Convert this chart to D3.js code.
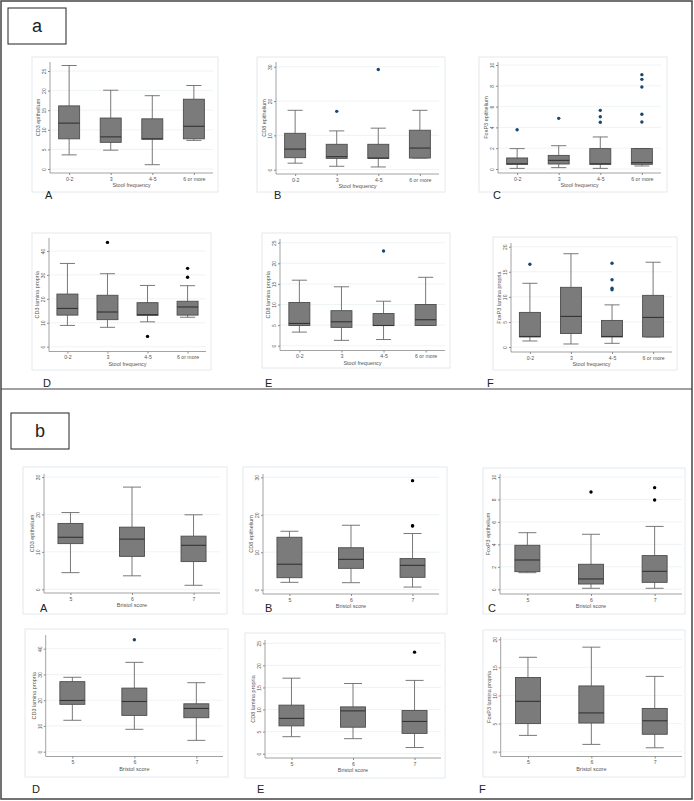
<!DOCTYPE html>
<html>
<head>
<meta charset="utf-8">
<script src="https://cdn.jsdelivr.net/npm/d3@7"></script>
<style>
  body { margin: 0; background: #fff; }
  svg { display: block; font-family: "Liberation Sans", Arial, sans-serif; }
</style>
</head>
<body>
<div class="container"></div>
<script>
const W = 694, H = 801;

// categories
const stoolCats = ["0-2", "3", "4-5", "6 or more"];
const bristolCats = ["5", "6", "7"];

// box stats per category: [lower whisker, q1, median, q3, upper whisker]
const aCD3epi   = [[3.6, 7.7, 11.7, 16.1, 26.4], [4.8, 6.8, 8.2, 13.0, 20.1], [1.1, 7.6, 7.7, 12.8, 18.7], [7.3, 7.7, 10.9, 17.8, 21.3]];
const aCD8epi   = [[1.9, 3.5, 6.0, 10.6, 17.3], [1.0, 3.3, 3.8, 7.4, 11.3], [0.8, 3.3, 3.4, 7.4, 12.1], [3.4, 3.4, 6.3, 11.5, 17.3]];
const aFoxEpi   = [[0.06, 0.45, 0.5, 1.06, 1.96], [0.13, 0.48, 0.83, 1.31, 2.24], [0.06, 0.45, 0.5, 1.96, 3.08], [0.29, 0.45, 0.61, 1.96, 1.96]];
const aCD3lp    = [[8.9, 13.2, 16.0, 22.0, 34.8], [8.1, 11.3, 14.5, 21.5, 30.5], [10.4, 13.1, 13.4, 18.4, 25.6], [12.3, 13.2, 16.6, 19.0, 25.5]];
const aCD8lp    = [[3.3, 4.9, 5.4, 10.5, 15.9], [1.3, 4.45, 5.8, 8.5, 14.3], [1.5, 4.9, 4.9, 7.8, 10.8], [4.9, 4.9, 6.3, 10.0, 16.6]];
const aFoxLp    = [[1.2, 2.0, 2.1, 6.9, 12.7], [0.6, 2.7, 6.1, 11.9, 18.6], [0.73, 2.0, 2.1, 5.3, 8.4], [2.0, 2.0, 5.9, 10.3, 16.9]];

const bCD3epi   = [[4.45, 12.2, 13.9, 17.6, 20.5], [3.6, 8.8, 13.4, 16.6, 27.3], [1.07, 7.4, 11.75, 14.2, 19.9]];
const bCD8epi   = [[1.96, 3.2, 6.8, 14.0, 15.6], [1.87, 5.7, 8.1, 11.2, 17.2], [0.7, 3.3, 6.5, 8.3, 15.0]];
const bFoxEpi   = [[1.48, 1.57, 2.61, 3.92, 5.04], [0.09, 0.47, 0.92, 2.23, 4.9], [0.09, 0.62, 1.6, 3.0, 5.6]];
const bCD3lp    = [[12.2, 18.4, 19.9, 27.2, 28.9], [8.7, 14.1, 19.5, 24.7, 34.7], [4.4, 13.2, 16.8, 18.6, 26.8]];
const bCD8lp    = [[3.85, 6.3, 8.0, 11.0, 17.1], [3.4, 6.0, 9.7, 10.6, 15.9], [1.4, 4.6, 7.3, 9.8, 16.6]];
const bFoxLp    = [[2.9, 5.0, 8.96, 13.2, 16.8], [1.3, 5.1, 6.9, 11.7, 18.6], [0.7, 3.1, 5.5, 7.7, 13.4]];

// outside values per category
const aCD3epiOut = [[], [], [], []];
const aCD8epiOut = [[], [17.0], [29.2], []];
const aFoxEpiOut = [[3.78], [4.87], [5.64, 5.03, 4.49], [9.07, 8.62, 7.88, 5.26, 4.52]];
const aCD3lpOut  = [[], [43.6], [4.3], [32.75, 29.0]];
const aCD8lpOut  = [[], [], [23.0], []];
const aFoxLpOut  = [[16.5], [], [16.7, 13.4, 11.7, 11.4], []];

const bCD3epiOut = [[], [], []];
const bCD8epiOut = [[], [], [29.1, 17.1, 17.0]];
const bFoxEpiOut = [[], [8.66], [9.05, 7.95]];
const bCD3lpOut  = [[], [43.5], []];
const bCD8lpOut  = [[], [], [23.0]];
const bFoxLpOut  = [[], [], []];

// tick values
const ticks25 = [0, 5, 10, 15, 20, 25];
const ticks30 = [0, 10, 20, 30];
const ticks10 = [0, 2, 4, 6, 8, 10];
const ticks40 = [0, 10, 20, 30, 40];
const ticks20 = [0, 5, 10, 15, 20];

const navy = "#1a476f", black = "#000";

const panels = [
  {frame: [32, 57, 186, 135], ax0: 50, ax1: 213, axY: 173, axTop: 62, y0: 169, yT: 71, yMax: 25, ticks: ticks25,
   cats: stoolCats, stats: aCD3epi, outs: aCD3epiOut, oc: navy, ytitle: "CD3 epithelium", xtitle: "Stool frequency", letter: ["A", 45, 199]},
  {frame: [257, 57, 188, 135], ax0: 276, ax1: 439, axY: 174, axTop: 62, y0: 169.7, yT: 66.7, yMax: 30, ticks: ticks30,
   cats: stoolCats, stats: aCD8epi, outs: aCD8epiOut, oc: navy, ytitle: "CD8 epithelium", xtitle: "Stool frequency", letter: ["B", 274, 199]},
  {frame: [479, 57, 188, 135], ax0: 498, ax1: 661, axY: 173, axTop: 62, y0: 169, yT: 65, yMax: 10, ticks: ticks10,
   cats: stoolCats, stats: aFoxEpi, outs: aFoxEpiOut, oc: navy, ytitle: "FoxP3 epithelium", xtitle: "Stool frequency", letter: ["C", 493, 199]},
  {frame: [32, 233, 179, 137], ax0: 49, ax1: 206, axY: 351.5, axTop: 238, y0: 346.7, yT: 251, yMax: 40, ticks: ticks40,
   cats: stoolCats, stats: aCD3lp, outs: aCD3lpOut, oc: black, ytitle: "CD3 lamina propria", xtitle: "Stool frequency", letter: ["D", 43, 387]},
  {frame: [262, 233, 188, 135], ax0: 280, ax1: 445, axY: 350.5, axTop: 239, y0: 345.7, yT: 242.7, yMax: 25, ticks: ticks25,
   cats: stoolCats, stats: aCD8lp, outs: aCD8lpOut, oc: navy, ytitle: "CD8 lamina propria", xtitle: "Stool frequency", letter: ["E", 265, 387]},
  {frame: [493, 237, 184, 133], ax0: 511, ax1: 672, axY: 352, axTop: 243, y0: 347, yT: 246.7, yMax: 20, ticks: ticks20,
   cats: stoolCats, stats: aFoxLp, outs: aFoxLpOut, oc: navy, ytitle: "FoxP3 lamina propria", xtitle: "Stool frequency", letter: ["F", 487, 387]},

  {frame: [23, 467, 204, 147], ax0: 44, ax1: 220, axY: 593, axTop: 474, y0: 589.3, yT: 477, yMax: 30, ticks: ticks30,
   cats: bristolCats, stats: bCD3epi, outs: bCD3epiOut, oc: black, ytitle: "CD3 epithelium", xtitle: "Bristol score", letter: ["A", 40, 612]},
  {frame: [243, 467, 204, 147], ax0: 263, ax1: 439, axY: 594, axTop: 474, y0: 589.7, yT: 477.3, yMax: 30, ticks: ticks30,
   cats: bristolCats, stats: bCD8epi, outs: bCD8epiOut, oc: black, ytitle: "CD8 epithelium", xtitle: "Bristol score", letter: ["B", 265, 612]},
  {frame: [483, 468, 202, 146], ax0: 500, ax1: 682, axY: 594, axTop: 474, y0: 589.3, yT: 477, yMax: 10, ticks: ticks10,
   cats: bristolCats, stats: bFoxEpi, outs: bFoxEpiOut, oc: black, ytitle: "FoxP3 epithelium", xtitle: "Bristol score", letter: ["C", 488, 612]},
  {frame: [25, 629, 203, 148], ax0: 45.7, ax1: 223, axY: 756.5, axTop: 635, y0: 751.7, yT: 648.7, yMax: 40, ticks: ticks40,
   cats: bristolCats, stats: bCD3lp, outs: bCD3lpOut, oc: navy, ytitle: "CD3 lamina propria", xtitle: "Bristol score", letter: ["D", 32, 793]},
  {frame: [245, 633, 200, 145], ax0: 265, ax1: 441, axY: 758, axTop: 640, y0: 753.7, yT: 643.3, yMax: 25, ticks: ticks25,
   cats: bristolCats, stats: bCD8lp, outs: bCD8lpOut, oc: black, ytitle: "CD8 lamina propria", xtitle: "Bristol score", letter: ["E", 257, 793]},
  {frame: [483, 630, 202, 147], ax0: 500.7, ax1: 682, axY: 756.5, axTop: 637, y0: 751.7, yT: 639.3, yMax: 20, ticks: ticks20,
   cats: bristolCats, stats: bFoxLp, outs: bFoxLpOut, oc: black, ytitle: "FoxP3 lamina propria", xtitle: "Bristol score", letter: ["F", 479, 793]}
];

const svg = d3.select(".container")
  .append("svg")
  .attr("width", W)
  .attr("height", H);

// outer border and separator
svg.append("rect").attr("x", 1).attr("y", 1).attr("width", W - 3).attr("height", H - 3)
  .attr("fill", "none").attr("stroke", "#444").attr("stroke-width", 1.5);
svg.append("line").attr("x1", 1).attr("x2", W - 2).attr("y1", 389).attr("y2", 389)
  .attr("stroke", "#444").attr("stroke-width", 1.2);

// section labels
[["a", 8, 8], ["b", 11, 413]].forEach(([t, x, y]) => {
  svg.append("rect").attr("x", x).attr("y", y).attr("width", 58).attr("height", 36)
    .attr("fill", "#fff").attr("stroke", "#222").attr("stroke-width", 1);
  svg.append("text").attr("x", x + 29).attr("y", y + 24).attr("text-anchor", "middle")
    .attr("font-size", 18).attr("fill", "#222").text(t);
});

function drawPanel(p) {
  const g = svg.append("g");
  const [fx, fy, fw, fh] = p.frame;
  g.append("rect").attr("x", fx).attr("y", fy).attr("width", fw).attr("height", fh)
    .attr("fill", "#fff").attr("stroke", "#e3eaee").attr("stroke-width", 1);

  const x = d3.scalePoint().domain(p.cats).range([p.ax0, p.ax1])
    .padding(p.cats.length === 4 ? 0.46 : 0.43);
  const y = d3.scaleLinear().domain([0, p.yMax]).range([p.y0, p.yT]);
  const bw = p.cats.length === 4 ? 21 : 25;

  // gridlines
  g.selectAll(".grid").data(p.ticks).enter().append("line")
    .attr("x1", p.ax0).attr("x2", p.ax1)
    .attr("y1", d => y(d)).attr("y2", d => y(d))
    .attr("stroke", "#eaf0f2").attr("stroke-width", 0.8);

  // y axis, labels turned on their side like Stata
  const yAxis = d3.axisLeft(y).tickValues(p.ticks).tickSize(2);
  const ya = g.append("g").attr("transform", "translate(" + p.ax0 + ",0)").call(yAxis);
  ya.select(".domain").remove();
  ya.append("line").attr("x1", 0).attr("x2", 0).attr("y1", p.axTop).attr("y2", p.axY)
    .attr("stroke", "#8c8c8c").attr("stroke-width", 0.8);
  ya.selectAll(".tick line").attr("stroke", "#8c8c8c");
  ya.selectAll(".tick text")
    .attr("font-size", 5).attr("fill", "#555")
    .attr("text-anchor", "middle")
    .attr("x", 0).attr("y", 0).attr("dy", 0)
    .attr("transform", "translate(-4,0) rotate(-90)");

  // x axis
  const xAxis = d3.axisBottom(x).tickSize(2).tickPadding(2);
  const xa = g.append("g").attr("transform", "translate(0," + p.axY + ")").call(xAxis);
  xa.select(".domain").remove();
  xa.append("line").attr("x1", p.ax0).attr("x2", p.ax1).attr("y1", 0).attr("y2", 0)
    .attr("stroke", "#8c8c8c").attr("stroke-width", 0.8);
  xa.selectAll(".tick line").attr("stroke", "#8c8c8c");
  xa.selectAll(".tick text").attr("font-size", 5.2).attr("fill", "#555");

  // axis titles
  g.append("text")
    .attr("transform", "translate(" + (p.ax0 - 10) + "," + ((p.axTop + p.axY) / 2) + ") rotate(-90)")
    .attr("text-anchor", "middle").attr("font-size", 5.5).attr("fill", "#555")
    .text(p.ytitle);
  g.append("text")
    .attr("x", (p.ax0 + p.ax1) / 2).attr("y", p.axY + 14)
    .attr("text-anchor", "middle").attr("font-size", 5.5).attr("fill", "#555")
    .text(p.xtitle);

  // boxes
  const box = g.selectAll(".box").data(p.stats).enter().append("g");
  box.append("line")
    .attr("x1", (d, i) => x(p.cats[i])).attr("x2", (d, i) => x(p.cats[i]))
    .attr("y1", d => y(d[3])).attr("y2", d => y(d[4]))
    .attr("stroke", "#6a6a6a").attr("stroke-width", 0.9);
  box.append("line")
    .attr("x1", (d, i) => x(p.cats[i])).attr("x2", (d, i) => x(p.cats[i]))
    .attr("y1", d => y(d[0])).attr("y2", d => y(d[1]))
    .attr("stroke", "#6a6a6a").attr("stroke-width", 0.9);
  [0, 4].forEach(k => {
    box.append("line")
      .attr("x1", (d, i) => x(p.cats[i]) - bw * 0.36).attr("x2", (d, i) => x(p.cats[i]) + bw * 0.36)
      .attr("y1", d => y(d[k])).attr("y2", d => y(d[k]))
      .attr("stroke", "#6a6a6a").attr("stroke-width", 0.9);
  });
  box.append("rect")
    .attr("x", (d, i) => x(p.cats[i]) - bw / 2).attr("width", bw)
    .attr("y", d => y(d[3])).attr("height", d => y(d[1]) - y(d[3]))
    .attr("fill", "#7b7b7b").attr("stroke", "#4d4d4d").attr("stroke-width", 0.9);
  box.append("line")
    .attr("x1", (d, i) => x(p.cats[i]) - bw / 2).attr("x2", (d, i) => x(p.cats[i]) + bw / 2)
    .attr("y1", d => y(d[2])).attr("y2", d => y(d[2]))
    .attr("stroke", "#333").attr("stroke-width", 1.1);

  // outside values
  p.outs.forEach((vals, i) => {
    g.selectAll(null).data(vals).enter().append("circle")
      .attr("cx", x(p.cats[i])).attr("cy", d => y(d)).attr("r", 1.7)
      .attr("fill", p.oc);
  });

  // panel letter
  g.append("text").attr("x", p.letter[1]).attr("y", p.letter[2])
    .attr("font-size", 11).attr("fill", "#222").text(p.letter[0]);
}

panels.forEach(drawPanel);
</script>
</body>
</html>
